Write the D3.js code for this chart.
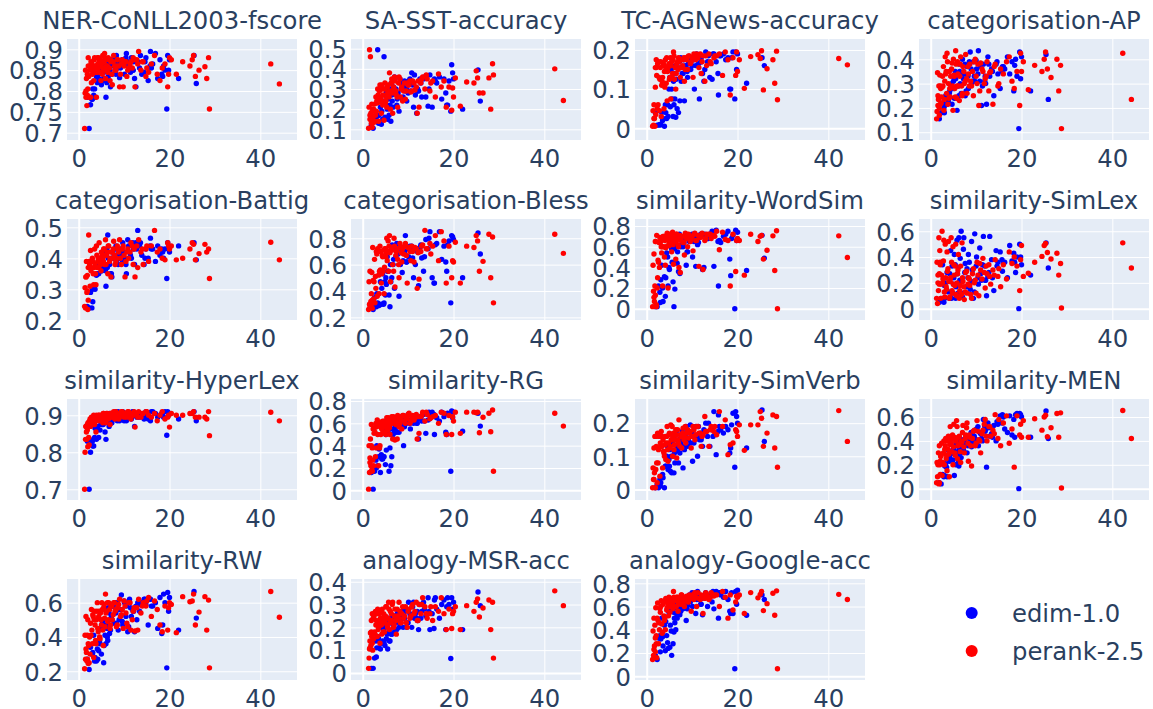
<!DOCTYPE html>
<html><head><meta charset="utf-8">
<script src="https://cdn.jsdelivr.net/npm/d3@7"></script>
<style>html,body{margin:0;background:#fff}svg{display:block}text{font-family:"DejaVu Sans",sans-serif;fill:#2a3f5f}</style>
</head><body><div id="c"></div>
<script>
const seriesNames=["edim-1.0","perank-2.5"];
const seriesColors=["#0000ff","#ff0000"];
const xTicks=[0,20,40];
const blueX=[1.9,2.3,2.6,2.9,3.1,3.3,3.6,3.9,4.1,4.4, 4.7,5.0,5.2,5.5,5.8,6.0,6.2,6.4,6.7,7.0, 7.3,7.6,8.0,8.3,8.7,9.0,9.4,9.7,10.1,10.5, 10.8,11.2,11.6,11.9,12.3,12.6,13.0,13.4,13.9,14.4, 14.8,15.3,15.8,16.3,16.9,17.4,17.9,18.3,18.7,19.0, 19.4,19.6,19.8,20.0,22.0,25.4,25.9,18.5,15.7,12.1];
const blueX2=[3.0,3.5,4.2,4.6,4.9,5.1,5.4,5.6,5.9,6.1, 6.3,6.5,6.8,7.2,7.5,7.8,8.2,8.5,8.9,9.2, 9.6,10.0,10.4,11.0,11.4,12.0,12.8,13.6,14.6,16.0];
const redX=[1.3,1.4,1.5,1.6,1.7,1.8,1.9,2.0,2.1,2.2, 2.4,2.5,2.6,2.8,2.9,3.0,3.2,3.3,3.5,3.6, 3.8,3.9,4.1,4.3,4.5,4.7,4.9,5.1,5.3,5.5, 5.7,5.9,6.1,6.4,6.6,6.9,7.1,7.4,7.7,8.0, 8.3,8.6,9.0,9.4,9.8,10.2,10.6,11.0,11.5,12.0, 12.4,12.8,13.2,13.7,14.2,14.8,15.4,16.0,16.7,17.3, 17.9,18.4,19.0,19.6,20.0,20.4,21.5,22.9,24.5,25.0, 25.3,25.7,26.5,27.8,28.2,28.6,28.8,42.3,44.2,19.8];
const redX2=[1.6,1.9,2.1,2.3,2.7,3.1,3.4,3.7,4.0,4.2, 4.4,4.6,4.8,5.0,5.2,5.4,5.6,5.8,6.0,6.3, 6.5,6.8,7.0,7.3,7.6,7.9,8.2,8.5,8.8,9.2, 9.6,10.0,10.4,10.8,11.3,11.8,12.2,13.0,14.0,15.0];

const nerB=[.785,.71,.767,.78,.805,.79,.785,.835,.82,.83, .85,.815,.86,.83,.85,.785,.82,.86,.855,.81, .84,.875,.85,.885,.865,.832,.86,.875,.84,.89, .87,.85,.88,.85,.83,.81,.87,.855,.84,.845, .88,.825,.895,.865,.89,.83,.875,.84,.86,.85, .757,.885,.85,.875,.83,.885,.818,.835,.86,.87];
const nerB2=[.78,.805,.84,.85,.86,.845,.825,.845,.86,.855, .87,.835,.85,.86,.875,.865,.84,.855,.87,.855, .875,.865,.88,.86,.845,.85,.87,.885,.87,.855];
const nerR=[.71,.795,.85,.785,.83,.765,.79,.805,.88,.835, .86,.85,.785,.82,.865,.84,.85,.825,.88,.86, .845,.785,.88,.855,.87,.86,.825,.845,.885,.87, .89,.83,.86,.845,.875,.825,.87,.815,.885,.85, .86,.875,.81,.865,.81,.87,.835,.855,.87,.88, .81,.875,.895,.85,.87,.835,.845,.865,.885,.84, .825,.855,.865,.81,.88,.875,.84,.87,.86,.875, .885,.835,.85,.858,.83,.88,.757,.865,.817,.84];
const nerR2=[.80,.84,.86,.785,.87,.86,.875,.85,.845,.865, .88,.845,.875,.865,.84,.855,.87,.88,.85,.86, .88,.855,.875,.84,.87,.86,.85,.875,.86,.84, .875,.86,.87,.85,.865,.855,.875,.865,.87,.855];
const sstB=[.12,.105,.15,.17,.14,.495,.17,.21,.125,.15, .46,.23,.28,.15,.17,.22,.14,.27,.21,.36, .30,.25,.19,.33,.25,.31,.29,.24,.34,.29, .38,.21,.27,.18,.29,.35,.26,.35,.26,.215, .37,.21,.35,.33,.36,.25,.35,.28,.22,.34, .19,.42,.38,.35,.20,.395,.24,.22,.34,.30];
const sstB2=[.16,.13,.19,.24,.16,.30,.20,.25,.27,.30, .33,.24,.31,.29,.22,.28,.35,.30,.26,.34, .30,.28,.35,.32,.37,.29,.33,.36,.30,.34];
const sstR=[.105,.21,.495,.15,.46,.18,.13,.225,.11,.16, .20,.135,.225,.17,.26,.19,.23,.30,.14,.235, .32,.25,.18,.30,.27,.145,.33,.24,.21,.28, .285,.38,.20,.35,.18,.30,.34,.27,.21,.36, .26,.31,.29,.25,.33,.32,.285,.34,.295,.18, .21,.33,.36,.30,.35,.29,.34,.26,.375,.31, .34,.21,.31,.195,.26,.355,.215,.335,.33,.39, .355,.28,.28,.355,.20,.425,.37,.40,.243,.305];
const sstR2=[.17,.145,.19,.20,.14,.24,.27,.29,.26,.32, .22,.24,.30,.23,.26,.31,.32,.26,.29,.33, .28,.31,.36,.29,.26,.33,.35,.30,.24,.33, .29,.32,.34,.29,.33,.31,.34,.35,.37,.33];
const agB=[.04,.008,.008,.01,.01,.04,.025,.005,.06,.025, .03,.15,.055,.1,.03,.06,.075,.028,.05,.04, .07,.12,.14,.07,.155,.13,.17,.15,.18,.10, .16,.185,.075,.17,.14,.12,.195,.17,.13,.125, .19,.17,.085,.185,.19,.175,.18,.10,.18,.195, .075,.195,.15,.19,.115,.18,.16,.10,.14,.17];
const agB2=[.008,.02,.04,.06,.10,.13,.15,.075,.12,.14, .16,.125,.155,.17,.18,.14,.175,.16,.145,.165, .18,.16,.175,.19,.165,.18,.15,.185,.19,.185];
const agR=[.005,.045,.008,.06,.025,.005,.105,.035,.155,.135, .165,.06,.17,.045,.125,.155,.03,.11,.13,.16, .05,.145,.175,.115,.07,.155,.165,.13,.075,.17, .14,.195,.125,.10,.165,.15,.17,.13,.155,.175, .12,.18,.15,.185,.17,.13,.185,.19,.155,.14, .185,.12,.16,.19,.165,.18,.185,.19,.135,.195, .175,.085,.18,.135,.145,.175,.102,.183,.188,.178, .198,.098,.152,.175,.115,.197,.073,.178,.162,.195];
const agR2=[.025,.155,.175,.05,.13,.17,.12,.165,.105,.155, .18,.145,.16,.125,.18,.16,.13,.175,.185,.155, .14,.17,.18,.155,.175,.16,.18,.15,.175,.185, .165,.18,.19,.175,.18,.19,.17,.185,.17,.185];
const apB=[.155,.18,.22,.20,.21,.25,.215,.23,.26,.28, .215,.31,.24,.32,.19,.335,.25,.35,.26,.40, .34,.25,.37,.28,.43,.30,.39,.31,.36,.435, .31,.21,.38,.31,.215,.41,.33,.36,.25,.38, .34,.28,.37,.36,.41,.34,.39,.27,.40,.33, .115,.43,.32,.41,.27,.42,.235,.375,.35,.30];
const apB2=[.18,.24,.27,.30,.33,.28,.35,.34,.24,.29, .38,.30,.34,.32,.38,.27,.33,.39,.36,.31, .33,.395,.34,.37,.29,.33,.38,.35,.39,.37];
const apR=[.155,.185,.345,.21,.235,.29,.17,.335,.215,.28, .245,.285,.33,.37,.19,.235,.41,.34,.26,.425, .215,.30,.35,.245,.285,.385,.19,.335,.28,.435, .24,.39,.29,.33,.41,.25,.37,.30,.42,.26, .34,.38,.29,.25,.40,.30,.21,.385,.35,.32, .39,.27,.35,.215,.38,.29,.36,.34,.39,.41, .31,.28,.35,.21,.35,.39,.275,.375,.35,.40, .43,.36,.325,.40,.27,.375,.115,.425,.235,.425];
const apR2=[.25,.20,.29,.22,.29,.31,.35,.39,.24,.28, .33,.36,.29,.40,.33,.245,.38,.29,.34,.23, .38,.29,.26,.35,.31,.32,.37,.29,.31,.35, .39,.33,.38,.27,.36,.30,.33,.345,.37,.30];
const battigB=[.245,.24,.29,.24,.26,.31,.30,.345,.35,.35, .38,.36,.40,.37,.38,.31,.43,.475,.38,.35, .34,.40,.43,.39,.38,.41,.42,.45,.40,.35, .46,.42,.40,.45,.38,.45,.49,.44,.41,.38, .43,.40,.465,.43,.39,.44,.41,.43,.40,.43, .335,.45,.44,.42,.44,.45,.395,.42,.44,.43];
const battigB2=[.30,.31,.35,.38,.37,.36,.39,.38,.36,.42, .37,.40,.38,.35,.42,.41,.44,.41,.40,.43, .39,.42,.38,.44,.41,.44,.43,.45,.40,.43];
const battigR=[.245,.305,.24,.34,.39,.29,.345,.235,.265,.475, .38,.31,.425,.37,.39,.40,.35,.315,.43,.38, .315,.44,.37,.40,.45,.39,.36,.42,.40,.43, .38,.46,.41,.35,.44,.40,.34,.42,.455,.38, .40,.43,.46,.38,.44,.34,.42,.40,.45,.38, .34,.44,.46,.42,.38,.43,.39,.44,.49,.42, .43,.40,.395,.45,.43,.44,.395,.40,.43,.45, .445,.395,.415,.445,.42,.43,.335,.452,.395,.44];
const battigR2=[.34,.295,.37,.39,.36,.39,.37,.35,.41,.39, .37,.40,.38,.42,.41,.39,.43,.41,.38,.42, .44,.39,.42,.40,.43,.41,.39,.44,.42,.40, .43,.41,.39,.43,.42,.44,.43,.37,.43,.44];
const blessB=[.30,.26,.35,.29,.38,.31,.29,.47,.30,.53, .31,.37,.45,.55,.37,.28,.47,.50,.60,.42, .66,.72,.36,.60,.54,.70,.82,.62,.66,.72, .74,.50,.60,.72,.44,.73,.65,.55,.79,.72, .85,.50,.46,.76,.85,.64,.74,.62,.75,.78, .31,.82,.81,.79,.50,.84,.68,.55,.46,.72];
const blessB2=[.28,.30,.42,.30,.47,.50,.66,.55,.70,.60, .73,.75,.64,.72,.76,.68,.74,.72,.63,.70, .62,.72,.74,.65,.72,.70,.75,.66,.80,.75];
const blessR=[.26,.47,.30,.55,.28,.32,.38,.54,.27,.73, .34,.47,.64,.51,.42,.70,.36,.72,.52,.38, .74,.56,.46,.67,.55,.38,.72,.66,.80,.70, .55,.82,.47,.72,.60,.80,.43,.70,.64,.50, .73,.62,.68,.76,.46,.73,.63,.70,.73,.42, .49,.70,.75,.86,.72,.76,.74,.82,.63,.85, .78,.46,.74,.50,.62,.77,.46,.74,.73,.82, .78,.55,.625,.83,.50,.81,.31,.83,.685,.63];
const blessR2=[.29,.30,.33,.48,.31,.68,.70,.55,.70,.53, .66,.71,.58,.72,.69,.63,.78,.74,.69,.73, .71,.55,.74,.67,.72,.60,.76,.69,.72,.74, .67,.73,.70,.74,.62,.72,.69,.74,.72,.68];
const wordSimB=[.02,.02,.22,.16,.28,.42,.07,.31,.12,.54, .22,.38,.68,.58,.26,.02,.19,.45,.44,.36, .34,.62,.60,.68,.42,.55,.65,.70,.50,.66, .41,.62,.70,.72,.38,.40,.71,.68,.72,.75, .41,.76,.22,.64,.70,.72,.75,.48,.68,.71, 0,.76,.66,.74,.37,.71,.49,.32,.65,.72];
const wordSimB2=[.06,.20,.30,.50,.40,.68,.66,.45,.64,.58, .70,.62,.55,.72,.60,.66,.64,.69,.55,.70, .67,.72,.65,.69,.64,.70,.72,.68,.74,.66];
const wordSimR=[.02,.42,.17,.53,.07,.22,.13,.65,.02,.71, .30,.47,.45,.40,.69,.64,.60,.54,.22,.70, .60,.50,.42,.68,.73,.20,.61,.65,.70,.55, .74,.43,.66,.48,.72,.62,.40,.35,.70,.64, .52,.72,.60,.70,.68,.56,.73,.66,.41,.70, .38,.66,.72,.72,.68,.71,.75,.57,.74,.67, .66,.22,.72,.36,.68,.66,.325,.72,.65,.70, .71,.48,.565,.705,.37,.755,0,.705,.495,.66];
const wordSimR2=[.11,.65,.04,.20,.64,.66,.60,.70,.66,.59, .71,.61,.66,.72,.63,.68,.71,.62,.70,.65, .72,.67,.60,.71,.66,.70,.64,.73,.68,.72, .65,.70,.72,.66,.71,.69,.73,.68,.72,.70];
const simLexB=[.05,.08,.34,.05,.08,.20,.28,.13,.08,.45, .33,.19,.42,.08,.53,.12,.55,.22,.60,.09, .55,.35,.31,.42,.15,.52,.08,.58,.40,.19, .47,.22,.56,.33,.10,.25,.56,.38,.14,.45, .36,.44,.29,.36,.24,.49,.37,.43,.28,.40, 0,.50,.40,.34,.26,.51,.315,.36,.38,.22];
const simLexB2=[.18,.14,.27,.08,.12,.24,.34,.17,.27,.32, .20,.39,.12,.46,.28,.17,.24,.36,.21,.30, .13,.33,.24,.27,.34,.22,.28,.24,.33,.35];
const simLexR=[.08,.36,.04,.26,.14,.55,.19,.45,.34,.08, .26,.60,.20,.37,.53,.13,.50,.24,.15,.44, .31,.52,.08,.21,.55,.14,.48,.34,.18,.50, .10,.27,.42,.14,.33,.51,.21,.07,.28,.12, .24,.18,.08,.31,.22,.36,.10,.30,.39,.16, .27,.34,.19,.30,.38,.25,.17,.34,.23,.44, .35,.40,.33,.14,.49,.25,.275,.36,.405,.49, .505,.435,.385,.43,.26,.35,0.005,.51,.315,.38];
const simLexR2=[.20,.27,.36,.19,.23,.09,.17,.29,.21,.09, .24,.36,.12,.19,.26,.33,.11,.20,.30,.08, .18,.11,.24,.17,.13,.29,.19,.23,.11,.27, .20,.12,.26,.35,.23,.28,.33,.25,.26,.31];
const hyperLexB=[.83,.70,.80,.833,.817,.817,.865,.835,.86,.84, .86,.875,.875,.885,.855,.835,.89,.88,.87,.90, .88,.89,.905,.89,.91,.885,.90,.91,.895,.885, .90,.905,.89,.91,.87,.90,.905,.895,.90,.89, .91,.89,.885,.91,.905,.895,.90,.905,.895,.91, .846,.91,.90,.905,.89,.91,.885,.90,.89,.90];
const hyperLexB2=[.83,.84,.87,.885,.88,.89,.875,.89,.895,.885, .90,.895,.905,.88,.90,.895,.91,.885,.90,.905, .895,.885,.905,.895,.905,.91,.895,.905,.90,.91];
const hyperLexR=[.70,.80,.835,.87,.855,.835,.875,.815,.88,.84, .885,.89,.87,.895,.88,.89,.89,.90,.875,.895, .855,.90,.89,.885,.90,.895,.89,.90,.88,.905, .895,.88,.905,.89,.90,.875,.905,.895,.91,.89, .90,.905,.895,.91,.90,.905,.895,.91,.89,.90, .868,.905,.91,.895,.905,.91,.90,.895,.905,.885, .90,.91,.89,.895,.868,.905,.90,.90,.905,.905, .91,.895,.895,.895,.89,.91,.845,.908,.885,.90];
const hyperLexR2=[.87,.86,.88,.82,.89,.885,.895,.885,.895,.89, .90,.895,.885,.90,.895,.905,.89,.90,.895,.905, .89,.90,.905,.895,.90,.905,.91,.90,.89,.905, .91,.895,.905,.91,.90,.905,.91,.895,.905,.91];
const rgB=[.16,.01,.17,.27,.40,.22,.37,.16,.32,.28, .30,.23,.36,.58,.17,.38,.22,.30,.50,.52, .56,.60,.52,.62,.58,.40,.65,.60,.63,.55, .62,.60,.65,.60,.46,.66,.62,.68,.51,.63, .68,.70,.50,.65,.62,.70,.66,.52,.69,.68, .17,.71,.65,.70,.53,.69,.575,.50,.68,.64];
const rgB2=[.20,.30,.28,.30,.55,.50,.52,.52,.56,.60, .50,.55,.62,.58,.52,.63,.60,.66,.62,.57, .64,.68,.60,.62,.66,.60,.65,.62,.70,.66];
const rgR=[.01,.40,.16,.29,.46,.22,.59,.18,.38,.27, .22,.51,.56,.30,.60,.38,.63,.50,.22,.58, .40,.61,.56,.51,.60,.62,.58,.50,.65,.54, .63,.56,.60,.66,.46,.63,.45,.61,.67,.57, .64,.55,.67,.60,.64,.69,.62,.67,.65,.46, .51,.66,.70,.62,.68,.64,.66,.67,.60,.70, .69,.50,.67,.50,.62,.70,.51,.70,.70,.695, .70,.515,.655,.69,.525,.72,.17,.69,.575,.66];
const rgR2=[.25,.40,.17,.55,.52,.57,.60,.38,.50,.55, .62,.58,.52,.60,.56,.62,.65,.58,.50,.63, .60,.66,.62,.59,.46,.65,.60,.63,.67,.62, .65,.68,.60,.66,.63,.68,.66,.67,.70,.65];
const simVerbB=[.005,.015,.005,.03,.02,.13,.035,.005,.07,.10, .06,.07,.055,.05,.1,.05,.08,.115,.13,.08, .11,.16,.065,.12,.19,.13,.17,.14,.085,.16, .19,.10,.15,.17,.13,.18,.20,.16,.13,.18, .235,.105,.225,.18,.17,.19,.18,.11,.195,.23, .067,.235,.22,.20,.125,.24,.145,.125,.175,.16];
const simVerbB2=[.01,.045,.07,.13,.09,.12,.10,.14,.16,.11, .15,.17,.12,.15,.14,.175,.13,.16,.18,.15, .195,.17,.14,.16,.19,.15,.175,.20,.16,.19];
const simVerbR=[.005,.065,.03,.125,.05,.16,.005,.06,.13,.08, .17,.08,.12,.16,.04,.14,.175,.13,.065,.15, .11,.10,.16,.14,.19,.085,.165,.125,.195,.15, .10,.17,.135,.18,.095,.15,.21,.165,.125,.185, .16,.14,.18,.17,.125,.19,.15,.19,.17,.13, .165,.22,.175,.13,.19,.175,.165,.235,.19,.21, .105,.135,.14,.18,.16,.195,.118,.195,.195,.235, .215,.13,.17,.225,.125,.22,.067,.238,.145,.175];
const simVerbR2=[.03,.06,.16,.02,.125,.13,.16,.115,.135,.09, .16,.12,.14,.17,.13,.15,.19,.16,.12,.15, .165,.18,.14,.13,.16,.17,.15,.19,.17,.155, .175,.16,.18,.165,.19,.17,.16,.175,.18,.19];
const menB=[.05,.04,.12,.10,.19,.21,.10,.32,.23,.29, .30,.33,.11,.20,.36,.28,.19,.40,.26,.37, .31,.42,.30,.38,.44,.35,.48,.40,.50,.36, .47,.42,.58,.52,.18,.55,.44,.46,.53,.40, .54,.61,.62,.50,.47,.61,.45,.58,.62,.63, 0,.63,.62,.60,.43,.65,.42,.43,.55,.50];
const menB2=[.11,.18,.26,.31,.24,.35,.29,.38,.31,.22, .34,.30,.41,.33,.38,.44,.36,.42,.47,.39, .44,.41,.52,.46,.40,.48,.51,.43,.56,.60];
const menR=[.05,.22,.10,.21,.30,.04,.36,.20,.12,.27, .38,.11,.22,.30,.40,.20,.36,.42,.28,.15, .33,.44,.10,.52,.38,.42,.20,.54,.30,.40, .57,.25,.43,.37,.22,.39,.53,.30,.45,.55, .23,.43,.19,.48,.36,.57,.41,.30,.49,.58, .40,.52,.44,.49,.62,.42,.36,.55,.61,.38, .50,.18,.61,.45,.43,.57,.43,.585,.49,.60, .615,.435,.51,.63,.43,.635,0.005,.655,.42,.54];
const menR2=[.20,.05,.23,.28,.21,.33,.25,.40,.29,.37, .42,.31,.45,.35,.43,.28,.40,.52,.36,.44, .31,.40,.47,.35,.42,.51,.38,.45,.36,.42, .49,.38,.48,.40,.46,.54,.44,.52,.46,.58];
const rwB=[.27,.21,.34,.30,.31,.41,.28,.26,.33,.32, .36,.30,.49,.25,.41,.36,.45,.38,.54,.44, .50,.58,.60,.48,.44,.56,.645,.47,.60,.58, .43,.62,.52,.56,.43,.58,.60,.55,.60,.62, .59,.47,.62,.58,.60,.45,.63,.42,.65,.60, .22,.66,.55,.63,.44,.665,.51,.47,.62,.55];
const rwB2=[.30,.26,.27,.38,.45,.46,.50,.35,.47,.55, .40,.57,.42,.52,.58,.48,.54,.60,.50,.56, .49,.61,.52,.46,.57,.55,.50,.59,.62,.58];
const rwR=[.215,.41,.27,.52,.31,.26,.41,.50,.245,.35, .40,.30,.48,.56,.44,.36,.52,.28,.55,.47, .36,.50,.60,.43,.55,.39,.50,.60,.44,.57, .51,.65,.55,.49,.60,.45,.58,.50,.60,.55, .46,.57,.62,.53,.45,.58,.48,.60,.44,.55, .435,.57,.62,.54,.60,.58,.63,.52,.61,.56, .47,.43,.58,.44,.60,.59,.425,.635,.605,.61, .65,.47,.545,.635,.44,.615,.22,.665,.515,.57];
const rwR2=[.33,.27,.36,.25,.41,.53,.50,.38,.55,.45, .52,.40,.54,.47,.56,.35,.59,.46,.54,.60, .50,.56,.47,.58,.53,.60,.56,.47,.59,.52, .56,.61,.54,.46,.60,.50,.57,.44,.58,.61];
const msrB=[.02,.02,.065,.14,.11,.16,.11,.105,.20,.14, .135,.20,.15,.105,.18,.14,.24,.17,.21,.18, .22,.26,.20,.24,.24,.28,.27,.20,.31,.25, .20,.31,.26,.24,.19,.30,.27,.31,.25,.33, .19,.26,.32,.28,.24,.30,.32,.19,.33,.30, .063,.33,.28,.31,.19,.355,.295,.29,.195,.23];
const msrB2=[.07,.15,.13,.18,.12,.22,.17,.24,.14,.22, .17,.24,.20,.25,.19,.27,.22,.25,.20,.24, .28,.22,.26,.29,.24,.27,.24,.28,.27,.33];
const msrR=[.02,.065,.105,.14,.175,.12,.23,.16,.26,.10, .15,.25,.18,.27,.21,.23,.16,.28,.20,.26, .13,.24,.21,.28,.18,.25,.22,.29,.24,.20, .31,.19,.27,.23,.31,.21,.28,.17,.25,.31, .22,.26,.24,.29,.20,.28,.25,.30,.27,.23, .30,.26,.33,.29,.24,.26,.23,.29,.27,.33, .26,.19,.28,.195,.27,.29,.19,.295,.27,.31, .325,.245,.285,.32,.19,.31,.065,.36,.295,.26];
const msrR2=[.11,.18,.13,.24,.17,.26,.19,.22,.27,.17, .23,.26,.18,.25,.29,.21,.24,.28,.22,.26, .30,.20,.25,.23,.28,.24,.27,.22,.29,.25, .22,.27,.24,.29,.26,.31,.23,.30,.26,.29];
const googleB=[.18,.145,.33,.35,.32,.50,.26,.44,.22,.35, .24,.58,.44,.18,.28,.38,.46,.40,.50,.64, .53,.60,.58,.66,.48,.61,.70,.66,.60,.67, .54,.73,.66,.62,.53,.68,.72,.60,.70,.64, .58,.73,.50,.70,.68,.73,.66,.56,.72,.54, .065,.73,.62,.74,.525,.70,.66,.54,.72,.67];
const googleB2=[.21,.34,.47,.29,.55,.25,.39,.60,.55,.50, .62,.54,.58,.64,.56,.68,.62,.66,.58,.68, .64,.72,.68,.66,.70,.62,.70,.68,.73,.72];
const googleR=[.145,.39,.18,.50,.26,.44,.21,.59,.35,.16, .63,.48,.28,.40,.58,.55,.65,.45,.38,.62, .52,.48,.40,.66,.59,.62,.68,.55,.66,.62, .64,.73,.60,.66,.68,.56,.65,.62,.70,.66, .60,.68,.64,.70,.56,.68,.72,.60,.67,.70, .54,.67,.70,.66,.72,.69,.70,.60,.73,.68, .50,.70,.57,.64,.68,.70,.54,.72,.675,.705, .73,.565,.625,.715,.525,.735,.065,.705,.66,.69];
const googleR2=[.23,.33,.28,.50,.46,.60,.37,.64,.50,.67, .57,.64,.52,.65,.60,.67,.63,.58,.68,.65, .60,.68,.63,.66,.70,.62,.68,.65,.69,.64, .67,.70,.66,.68,.72,.66,.69,.72,.68,.70];

const titles=["NER-CoNLL2003-fscore","SA-SST-accuracy","TC-AGNews-accuracy","categorisation-AP","categorisation-Battig","categorisation-Bless","similarity-WordSim","similarity-SimLex","similarity-HyperLex","similarity-RG","similarity-SimVerb","similarity-MEN","similarity-RW","analogy-MSR-acc","analogy-Google-acc"];
const yDomains=[[.6825,.9247],[.047,.548],[-.030,.228],[.068,.4835],[.201,.5268],[.18,.946],[-.109,.868],[-.088,.695],[.671,.944],[-.087,.818],[-.032,.273],[-.095,.751],[.149,.738],[-.031,.412],[-.032,.837]];
const yTicks=[[.7,.75,.8,.85,.9],[.1,.2,.3,.4,.5],[0,.1,.2],[.1,.2,.3,.4],[.2,.3,.4,.5],[.2,.4,.6,.8],[0,.2,.4,.6,.8],[0,.2,.4,.6],[.7,.8,.9],[0,.2,.4,.6,.8],[0,.1,.2],[0,.2,.4,.6],[.2,.4,.6],[0,.1,.2,.3,.4],[0,.2,.4,.6,.8]];
const blueY=[[nerB,nerB2],[sstB,sstB2],[agB,agB2],[apB,apB2],[battigB,battigB2],[blessB,blessB2],[wordSimB,wordSimB2],[simLexB,simLexB2],[hyperLexB,hyperLexB2],[rgB,rgB2],[simVerbB,simVerbB2],[menB,menB2],[rwB,rwB2],[msrB,msrB2],[googleB,googleB2]];
const redY=[[nerR,nerR2],[sstR,sstR2],[agR,agR2],[apR,apR2],[battigR,battigR2],[blessR,blessR2],[wordSimR,wordSimR2],[simLexR,simLexR2],[hyperLexR,hyperLexR2],[rgR,rgR2],[simVerbR,simVerbR2],[menR,menR2],[rwR,rwR2],[msrR,msrR2],[googleR,googleR2]];

const W=1153,H=709,pw=230,ph=101,fs=24.3;
const colX=[67,351,635,919],rowY=[39,219,399,579];
const svg=d3.select("#c").append("svg").attr("width",W).attr("height",H);
const x=d3.scaleLinear().domain([-2.58,48.08]).range([0,pw]);
const pairs=(a,b)=>d3.zip(a[0],b[0]).concat(d3.zip(a[1],b[1]));

titles.forEach((t,i)=>{
  const px=colX[i%4],py=rowY[Math.floor(i/4)];
  const y=d3.scaleLinear().domain(yDomains[i]).range([ph,0]);
  const g=svg.append("g").attr("transform",`translate(${px},${py})`);
  g.append("rect").attr("width",pw).attr("height",ph).attr("fill","#E5ECF6");
  const ax=g.append("g").attr("transform",`translate(0,${ph})`)
    .call(d3.axisBottom(x).tickValues(xTicks).tickSize(ph).tickPadding(0).tickFormat(d3.format("d")));
  ax.selectAll("line").attr("y2",-ph).attr("stroke","#fff").attr("stroke-width",d=>d===0?2:1);
  ax.selectAll("text").attr("y",27).attr("dy",0).style("font-size",fs+"px");
  const ay=g.append("g").call(d3.axisLeft(y).tickValues(yTicks[i]).tickSize(0).tickPadding(0).tickFormat(d=>String(d)));
  ay.selectAll("line").attr("x2",pw).attr("stroke","#fff").attr("stroke-width",d=>d===0?2:1);
  ay.selectAll("text").attr("x",-4).attr("dy","0.36em").style("font-size",fs+"px");
  ax.select(".domain").remove(); ay.select(".domain").remove();
  [[[blueX,blueX2],blueY[i],0],[[redX,redX2],redY[i],1]].forEach(([xs,ys,s])=>{
    g.append("g").selectAll("circle").data(pairs(xs,ys)).join("circle")
      .attr("cx",d=>x(d[0])).attr("cy",d=>y(d[1])).attr("r",2.7).attr("fill",seriesColors[s]);
  });
  g.append("text").attr("x",pw/2).attr("y",-10).attr("text-anchor","middle").style("font-size",fs+"px").text(t);
});

const legY=d3.scalePoint().domain(seriesNames).range([613,651]);
const leg=svg.append("g");
seriesNames.forEach((n,i)=>{
  leg.append("circle").attr("cx",971.7).attr("cy",legY(n)).attr("r",6).attr("fill",seriesColors[i]);
  leg.append("text").attr("x",1012).attr("y",legY(n)+9).style("font-size",fs+"px").text(n);
});
</script></body></html>
